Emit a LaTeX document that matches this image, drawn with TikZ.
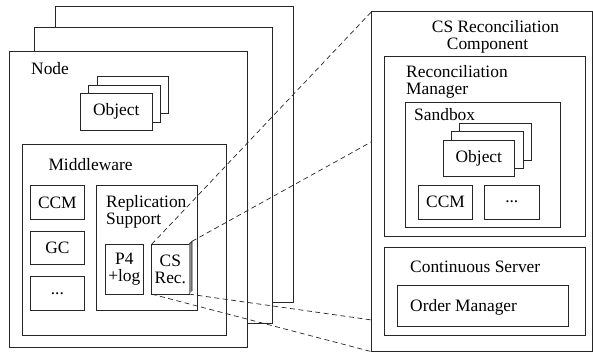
\documentclass[tikz,border=0pt]{standalone}
\usepackage{fontspec}
\setmainfont{Liberation Serif}
\begin{document}
\begin{tikzpicture}[x=1pt,y=-1pt,
  lc/.style={draw=black!85, line width=0.75pt},
  box/.style={lc, fill=white, rectangle, inner sep=0pt, anchor=north west, outer sep=0pt},
  lbl/.style={inner sep=0pt, anchor=base west, align=left},
  ctr/.style={align=center},
  conn/.style={draw=black!85, line width=0.7pt, dash pattern=on 5pt off 3.5pt},
  font=\fontsize{17.4}{16.5}\selectfont]
\useasboundingbox (0,0) rectangle (593,354);
% stacked node frames
\node[box, minimum width=238pt, minimum height=296pt] (f3) at (55.5,6) {};
\node[box, minimum width=238pt, minimum height=296pt] (f2) at (34,27.5) {};
\node[box, minimum width=238pt, minimum height=296pt] (f1) at (9.5,51.5) {};
\node[lbl] (nodelbl) at (31,74) {Node};
% object stack
\node[box, minimum width=71.5pt, minimum height=37pt] (o3) at (97,76.7) {};
\node[box, minimum width=71.5pt, minimum height=37pt] (o2) at (88.8,85) {};
\node[box, minimum width=71.5pt, minimum height=37pt] (o1) at (80.5,93.3) {};
\node (o1t) at (o1.center) {Object};
% middleware
\node[box, minimum width=204.7pt, minimum height=191pt] (mw) at (22,144) {};
\node[lbl] (mwlbl) at (48.3,170) {Middleware};
\node[box, minimum width=53.3pt, minimum height=33.3pt] (ccm) at (30.7,185.7) {};
\node (ccmt) at (ccm.center) {CCM};
\node[box, minimum width=53.3pt, minimum height=33.3pt] (gc) at (30.7,231) {};
\node (gct) at (gc.center) {GC};
\node[box, minimum width=53.3pt, minimum height=33.3pt] (dots) at (30.7,276.7) {};
\node (dotst) at (dots.center) {...};
\node[box, minimum width=100.6pt, minimum height=124.3pt] (rs) at (96.7,185.7) {};
\node[lbl] (rslbl) at (106,224) {Replication\\Support};
\node[box, minimum width=38pt, minimum height=50pt] (p4) at (105.3,244) {};
\node[ctr] (p4t) at (p4.center) {P4\\+log};
\node[box, minimum width=37.3pt, minimum height=49.8pt] (csrec) at (151.7,244.3) {};
\fill[black!45] (csrec.north east) -- ++(3,-3) -- ++(0,49.8) -- (csrec.south east) -- cycle;
\draw[lc] (csrec.north east) -- ++(3,-3) coordinate (csback) -- ++(0,49.8);
\node[ctr] (csrect) at (csrec.center) {CS\\Rec.};
% right panel
\node[box, minimum width=220.8pt, minimum height=340.2pt] (panel) at (371.7,11.5) {};
\node[lbl] (panellbl) at (431.7,49) {CS Reconciliation\\\hspace*{15pt}Component};
\node[box, minimum width=200.7pt, minimum height=179.3pt] (rm) at (384.3,56.7) {};
\node[lbl] (rmlbl) at (406,94) {Reconciliation\\Manager};
\node[box, minimum width=155pt, minimum height=125.4pt] (sb) at (405,102.3) {};
\node[lbl] (sblbl) at (414,120) {Sandbox};
\node[box, minimum width=71.5pt, minimum height=36.7pt] (so3) at (459.7,123.3) {};
\node[box, minimum width=71.5pt, minimum height=36.7pt] (so2) at (451.4,131.6) {};
\node[box, minimum width=71.5pt, minimum height=36.7pt] (so1) at (443.1,140) {};
\node (so1t) at (so1.center) {Object};
\node[box, minimum width=54.4pt, minimum height=34pt] (sccm) at (418.3,185) {};
\node (sccmt) at (sccm.center) {CCM};
\node[box, minimum width=55pt, minimum height=34pt] (sdots) at (484.3,185) {};
\node (sdotst) at (sdots.center) {...};
\node[box, minimum width=200.7pt, minimum height=87.3pt] (cs) at (384.3,247.7) {};
\node[lbl] (cslbl) at (410,272.5) {Continuous Server};
\node[box, minimum width=171pt, minimum height=41.7pt] (om) at (397.3,285) {};
\node[lbl] (omlbl) at (410,311) {Order Manager};
% connectors
\coordinate (pmid) at (371.7,141.7);
\coordinate (plow) at (371.7,320);
\draw[conn] (csrec.north west) -- (panel.north west);
\draw[conn] (csback) -- (pmid);
\draw[conn] (csrec.south east) -- (plow);
\draw[conn] (csrec.south west) -- (panel.south west);
\end{tikzpicture}
\end{document}
